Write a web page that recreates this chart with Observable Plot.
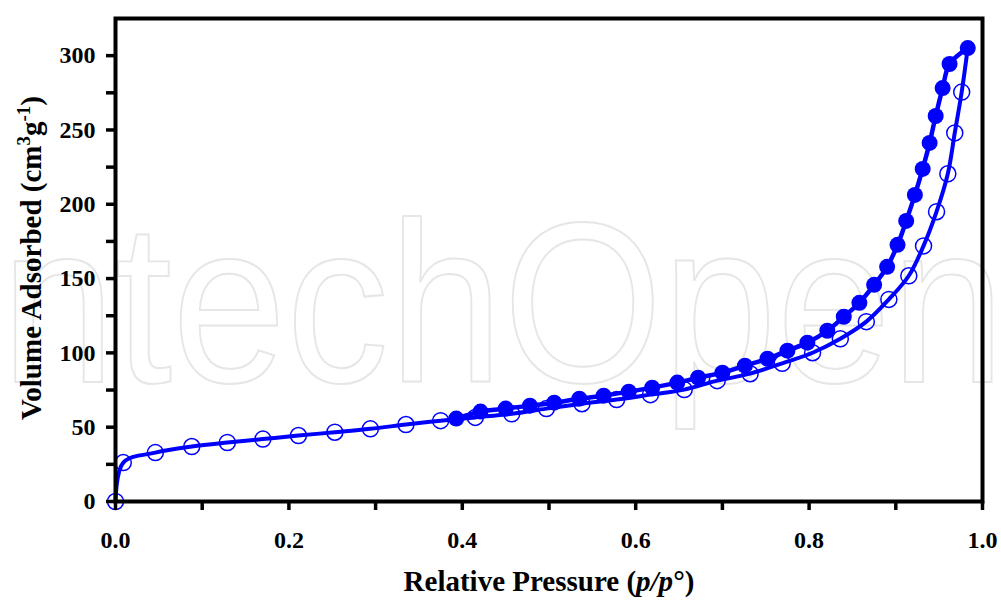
<!DOCTYPE html>
<html>
<head>
<meta charset="utf-8">
<script src="https://cdn.jsdelivr.net/npm/d3@7"></script>
<script src="https://cdn.jsdelivr.net/npm/@observablehq/plot@0.6"></script>
<style>
  html, body { margin: 0; padding: 0; background: #fff; }
  #chart { width: 1001px; height: 600px; }
</style>
</head>
<body>
<div id="chart"></div>
<script>
// Adsorption branch (open circles): relative pressure p/p° and volume adsorbed (cm3/g)
const adsP = [0, 0.009, 0.046, 0.088, 0.129, 0.170, 0.211, 0.253, 0.294, 0.335, 0.375,
  0.415, 0.457, 0.497, 0.538, 0.578, 0.617, 0.656, 0.694, 0.732, 0.769, 0.804,
  0.836, 0.866, 0.892, 0.915, 0.932, 0.947, 0.960, 0.968, 0.976];
const adsV = [0, 26.2, 32.9, 37.0, 39.7, 42.0, 44.4, 46.6, 48.9, 51.8, 54.4,
  56.6, 59.0, 62.5, 65.8, 68.6, 71.9, 75.3, 81.3, 86.0, 93.0, 100.1,
  109.5, 121.0, 136.0, 151.9, 172.0, 195.0, 220.5, 248.0, 275.5];

// Desorption branch (filled circles), from the highest pressure downwards
const desP = [0.983, 0.962, 0.954, 0.946, 0.939, 0.931, 0.922, 0.912, 0.902, 0.890,
  0.875, 0.858, 0.840, 0.821, 0.798, 0.775, 0.752, 0.726, 0.700, 0.672,
  0.648, 0.619, 0.592, 0.563, 0.535, 0.506, 0.478, 0.450, 0.421, 0.393];
const desV = [305.1, 294.4, 278.2, 259.4, 241.3, 223.8, 206.3, 188.8, 172.7, 157.9,
  145.8, 133.7, 124.3, 114.9, 106.9, 101.5, 96.1, 91.4, 86.7, 83.3,
  80.0, 76.6, 73.9, 71.2, 69.2, 66.5, 64.5, 62.5, 60.5, 55.8];

// Axis ticks
const xMajor = [0, 0.2, 0.4, 0.6, 0.8, 1.0];
const xMinor = [0.1, 0.3, 0.5, 0.7, 0.9];
const yMajor = [0, 50, 100, 150, 200, 250, 300];
const yMinor = [25, 75, 125, 175, 225, 275];

const ads = adsP.map((p, i) => ({p, v: adsV[i]}));
const des = desP.map((p, i) => ({p, v: desV[i]}));
// the adsorption curve runs up to the top point where desorption starts
const adsLine = ads.concat([des[0]]);

const blue = "#0000ff";
const serif = "'Liberation Serif', 'Times New Roman', serif";

const svg = Plot.plot({
  width: 1001,
  height: 600,
  marginLeft: 115,
  marginRight: 19,
  marginTop: 18,
  marginBottom: 99,
  style: {fontFamily: serif, fontSize: "24px", fontWeight: "bold", color: "black", background: "white", overflow: "visible"},
  x: {domain: [0, 1], axis: null},
  y: {domain: [0, 325], axis: null},
  marks: [
    Plot.line(adsLine, {x: "p", y: "v", curve: "catmull-rom", stroke: blue, strokeWidth: 4}),
    Plot.line(des, {x: "p", y: "v", curve: "catmull-rom", stroke: blue, strokeWidth: 4.5}),
    Plot.dot(ads, {x: "p", y: "v", r: 8, stroke: blue, strokeWidth: 1.5, fill: "none"}),
    Plot.dot(des, {x: "p", y: "v", r: 8, fill: blue, stroke: "none"}),
    Plot.frame({stroke: "black", strokeWidth: 4}),
    Plot.axisX(xMajor, {tickSize: 9, tickPadding: 20, strokeWidth: 3.5, label: null, tickFormat: d => d.toFixed(1)}),
    Plot.axisX(xMinor, {tickSize: 9, strokeWidth: 3.5, label: null, tickFormat: () => ""}),
    Plot.axisY(yMajor, {tickSize: 9, tickPadding: 11, strokeWidth: 3.5, label: null, tickFormat: d => String(d)}),
    Plot.axisY(yMinor, {tickSize: 9, strokeWidth: 3.5, label: null, tickFormat: () => ""})
  ]
});

document.getElementById("chart").appendChild(svg);
const root = d3.select(svg);

// faint outlined publisher mark behind the chart
root.insert("text", ":first-child")
  .attr("transform", "translate(-56,382) scale(0.9,1)")
  .attr("text-anchor", "start")
  .attr("font-family", "'Liberation Sans', Arial, sans-serif")
  .attr("font-size", 228)
  .attr("font-weight", "normal")
  .attr("fill", "none")
  .attr("stroke", "#e6e6e6")
  .attr("stroke-width", 2)
  .text("IntechOpen");
root.insert("rect", ":first-child")
  .attr("width", 1001).attr("height", 600).attr("fill", "white");

// y-axis title with superscripts
const yt = root.append("text")
  .attr("transform", "translate(41,258) rotate(-90)")
  .attr("text-anchor", "middle")
  .attr("font-family", serif)
  .attr("font-weight", "bold")
  .attr("font-size", 29)
  .attr("fill", "black");
yt.append("tspan").text("Volume Adsorbed (cm");
yt.append("tspan").attr("font-size", 19).attr("dy", -11).text("3");
yt.append("tspan").attr("dy", 11).text("g");
yt.append("tspan").attr("font-size", 19).attr("dy", -11).text("-1");
yt.append("tspan").attr("dy", 11).text(")");

// x-axis title with italic p/p
const xt = root.append("text")
  .attr("x", 549)
  .attr("y", 591)
  .attr("text-anchor", "middle")
  .attr("font-family", serif)
  .attr("font-weight", "bold")
  .attr("font-size", 29)
  .attr("fill", "black");
xt.append("tspan").text("Relative Pressure (");
xt.append("tspan").attr("font-style", "italic").text("p/p");
xt.append("tspan").text("°)");
</script>
</body>
</html>
